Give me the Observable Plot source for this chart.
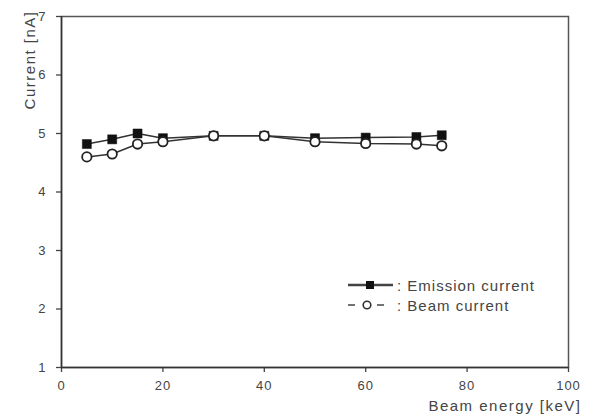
<!DOCTYPE html>
<html>
<head>
<meta charset="utf-8">
<script src="https://cdn.jsdelivr.net/npm/d3@7"></script>
<script src="https://cdn.jsdelivr.net/npm/@observablehq/plot@0.6"></script>
<style>
  html, body { margin: 0; padding: 0; background: #fff; }
  #wrap { position: relative; width: 595px; height: 417px; font-family: "Liberation Sans", Arial, sans-serif; }
  #legend { position: absolute; left: 346px; top: 275px; font-size: 15px; letter-spacing: 1px; color: #444; }
  #legend div { display: flex; align-items: center; height: 20px; }
  #legend svg { margin-right: 3px; }
</style>
</head>
<body>
<div id="wrap">
  <div id="chart"></div>
  <div id="legend"></div>
</div>
<script>
const energy = [5, 10, 15, 20, 30, 40, 50, 60, 70, 75];
const emission = [4.82, 4.90, 5.00, 4.92, 4.96, 4.96, 4.92, 4.93, 4.94, 4.97];
const beam = [4.60, 4.65, 4.82, 4.86, 4.96, 4.96, 4.86, 4.83, 4.82, 4.79];
const xTicks = [0, 20, 40, 60, 80, 100];
const yTicks = [1, 2, 3, 4, 5, 6, 7];
const seriesNames = ["Emission current", "Beam current"];
const xLabel = "Beam energy [keV]";
const yLabel = "Current [nA]";

const emData = energy.map((e, i) => ({x: e, y: emission[i]}));
const bmData = energy.map((e, i) => ({x: e, y: beam[i]}));

const chart = Plot.plot({
  width: 595,
  height: 417,
  marginLeft: 61,
  marginRight: 27,
  marginTop: 16,
  marginBottom: 50,
  style: {fontFamily: "Liberation Sans, Arial, sans-serif", fontSize: "13px", letterSpacing: "1px", color: "#444", background: "#fff"},
  x: {domain: [0, 100]},
  y: {domain: [1, 7]},
  marks: [
    Plot.frame({stroke: "#555", strokeWidth: 1.5}),
    Plot.axisX({ticks: xTicks, tickSize: 0, tickPadding: 13, label: null, tickFormat: d => String(d), fontSize: 13, fill: "#444"}),
    Plot.axisX({ticks: xTicks, tickSize: 5, text: null, label: null, stroke: "#444", strokeWidth: 1.3, ariaLabel: "x-tick-in"}),
    Plot.axisY({ticks: yTicks, tickSize: 5, tickPadding: 10, label: null, tickFormat: d => String(d), fontSize: 13, fill: "#444", stroke: "#444", strokeWidth: 1.3}),
    Plot.ruleX([0], {stroke: "#333", strokeWidth: 1.5}),
    Plot.ruleY([1], {stroke: "#333", strokeWidth: 1.5}),
    Plot.line(emData, {x: "x", y: "y", stroke: "#333", strokeWidth: 1.5}),
    Plot.line(bmData, {x: "x", y: "y", stroke: "#333", strokeWidth: 1.5}),
    Plot.dot(emData, {x: "x", y: "y", symbol: "square", r: 5.1, fill: "#111", stroke: "#111", strokeWidth: 0.5}),
    Plot.dot(bmData, {x: "x", y: "y", r: 4.7, fill: "#fff", stroke: "#222", strokeWidth: 1.8}),
    Plot.text([xLabel], {frameAnchor: "bottom-right", dy: 43, dx: 13, text: d => d, fontSize: 15, lineAnchor: "bottom", textAnchor: "end", fill: "#444"}),
    Plot.text([yLabel], {frameAnchor: "top-left", dx: -37, dy: -6, rotate: -90, text: d => d, fontSize: 15, textAnchor: "end", fill: "#444"})
  ]
});
chart.querySelectorAll("g[aria-label='text'] text").forEach(t => t.setAttribute("letter-spacing", "1.5px"));
// point the x-axis ticks inward (upward) like the original figure
chart.querySelectorAll("g[aria-label='x-tick-in']").forEach(g => g.setAttribute("transform", "translate(0,-5)"));
document.getElementById("chart").appendChild(chart);

const legend = document.getElementById("legend");
const icons = [
  `<svg width="48" height="12"><line x1="2" y1="6" x2="47" y2="6" stroke="#444" stroke-width="2.5"/><rect x="20" y="2" width="8" height="8" fill="#111"/></svg>`,
  `<svg width="48" height="12"><line x1="2" y1="6" x2="9" y2="6" stroke="#444" stroke-width="1.5"/><circle cx="21" cy="6" r="3.8" fill="#fff" stroke="#333" stroke-width="1.6"/><line x1="31" y1="6" x2="38" y2="6" stroke="#444" stroke-width="1.5"/></svg>`
];
seriesNames.forEach((name, i) => {
  const row = document.createElement("div");
  row.innerHTML = icons[i] + `<span>: ${name}</span>`;
  legend.appendChild(row);
});
</script>
</body>
</html>
